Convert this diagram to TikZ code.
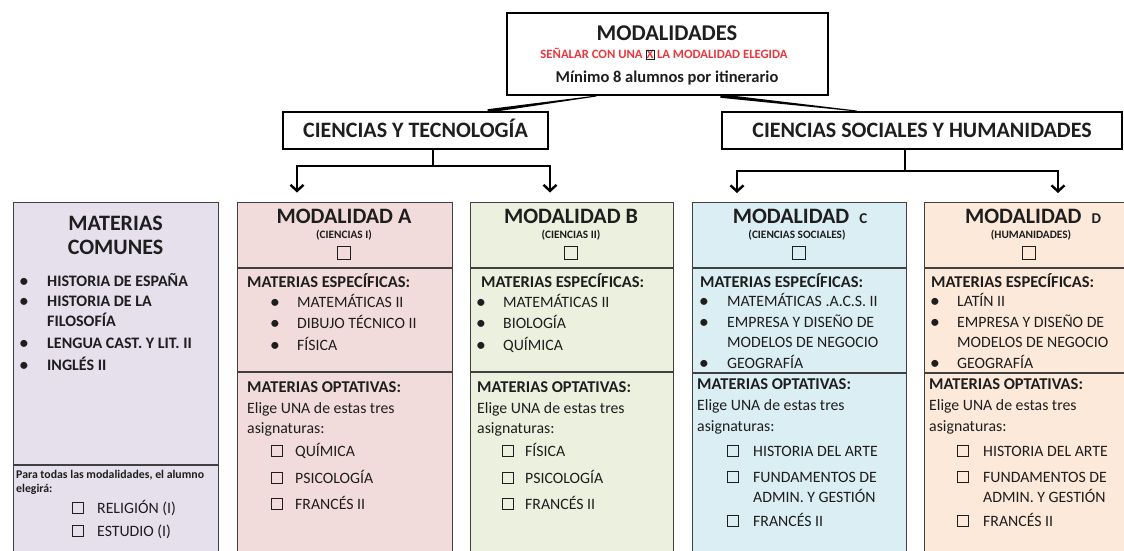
\documentclass[tikz,border=0pt]{standalone}
\usepackage{fontspec}
\setmainfont{Carlito}
\usetikzlibrary{arrows.meta,calc}
\definecolor{ink}{HTML}{1E1E1E}
\definecolor{redtxt}{HTML}{E8383D}
\definecolor{cCom}{HTML}{E5E0EC}
\definecolor{cA}{HTML}{F2DCDB}
\definecolor{cB}{HTML}{EBF1DE}
\definecolor{cC}{HTML}{DAEEF3}
\definecolor{cD}{HTML}{FDE9D9}
\newcommand{\fs}[1]{\fontsize{#1}{#1}\selectfont}
\newcommand{\xmark}{{\fboxsep=0.5pt\fboxrule=0.7pt\fcolorbox{ink}{white}{X}}}
\begin{document}
\begin{tikzpicture}[x=1pt,y=-1pt,
  txt/.style={inner sep=0pt, text=ink, text depth=0pt},
  ttl/.style={txt, font=\bfseries\fs{22}, text height=14.1pt},
  subt/.style={txt, font=\bfseries\fs{11.3}, text height=7.2pt},
  hd/.style={txt, anchor=west, font=\bfseries\fs{16.5}, text height=10.6pt},
  itm/.style={txt, anchor=west, font=\fs{15.8}, text height=10.1pt},
  bitm/.style={txt, anchor=west, font=\bfseries\fs{16}, text height=10.2pt},
  bul/.style={txt, font=\bfseries\fs{16.5}, text height=10.6pt},
  small/.style={txt, anchor=west, font=\bfseries\fs{11.8}, text height=7.5pt},
  cbox/.style={draw=ink, line width=1pt, minimum size=11pt, inner sep=0pt},
  bigcb/.style={draw=ink, line width=1.2pt, minimum size=12.5pt, inner sep=0pt},
  panel/.style={draw=black!75, line width=1.2pt, anchor=north west, minimum height=370pt, inner sep=0pt},
  divl/.style={draw=black!75, line width=1.2pt},
  topbox/.style={draw=black, line width=2pt, fill=white, inner sep=0pt},
  toptext/.style={text=ink, font=\bfseries\fs{22}, text height=14.1pt, text depth=0pt},
  conn/.style={draw=black, line width=2.4pt},
  arr/.style={-{Straight Barb[length=6pt,width=13pt]}},
]
\useasboundingbox (0,0) rectangle (1124,551);
\clip (0,0) rectangle (1124,551);
\fill[white] (0,0) rectangle (1124,551);

% ---------- panels ----------
\node[panel, fill=cCom, minimum width=205pt] (pCom) at (13,202) {};
\node[panel, fill=cA, minimum width=215pt] (pA) at (237,202) {};
\node[panel, fill=cB, minimum width=203pt] (pB) at (470,202) {};
\node[panel, fill=cC, minimum width=214pt] (pC) at (692,202) {};
\node[panel, fill=cD, minimum width=220pt] (pD) at (924,202) {};

\draw[divl] (13,465) -- (218,465);
\draw[divl] (237,268) -- (452,268);
\draw[divl] (237,372) -- (452,372);
\draw[divl] (470,268) -- (673,268);
\draw[divl] (470,372) -- (673,372);
\draw[divl] (692,268) -- (906,268);
\draw[divl] (692,373) -- (906,373);
\draw[divl] (924,268) -- (1144,268);
\draw[divl] (924,373) -- (1144,373);

% ---------- materias comunes ----------
\node[ttl] (comT1) at (115.5,223) {MATERIAS};
\node[ttl] (comT2) at (115.5,247) {COMUNES};
\node[bul] (cb1) at (24,281) {•}; \node[bitm] (ci1) at (47,281) {HISTORIA DE ESPAÑA};
\node[bul] (cb2) at (24,301) {•}; \node[bitm] (ci2) at (47,301) {HISTORIA DE LA};
\node[bitm] (ci2b) at (47,321) {FILOSOFÍA};
\node[bul] (cb3) at (24,343) {•}; \node[bitm] (ci3) at (47,343) {LENGUA CAST. Y LIT. II};
\node[bul] (cb4) at (24,365) {•}; \node[bitm] (ci4) at (47,365) {INGLÉS II};
\node[small] (cpara1) at (16,475) {Para todas las modalidades, el alumno};
\node[small] (cpara2) at (16,489) {elegirá:};
\node[cbox] (ccb1) at (78,508) {}; \node[itm] (cr1) at (97,508) {RELIGIÓN (I)};
\node[cbox] (ccb2) at (78,531) {}; \node[itm] (cr2) at (97,531) {ESTUDIO (I)};

% ---------- modalidad A ----------
\node[ttl] (aT) at (344,216) {MODALIDAD A};
\node[subt] (aS) at (344,235) {(CIENCIAS I)};
\node[bigcb] (aC) at (344,253) {};
\node[hd] (aE) at (247,282) {MATERIAS ESPECÍFICAS:};
\node[bul] (ab1) at (275,302) {•}; \node[itm] (ai1) at (297,302) {MATEMÁTICAS II};
\node[bul] (ab2) at (275,323) {•}; \node[itm] (ai2) at (297,323) {DIBUJO TÉCNICO II};
\node[bul] (ab3) at (275,345) {•}; \node[itm] (ai3) at (297,345) {FÍSICA};
\node[hd] (aO) at (247,387) {MATERIAS OPTATIVAS:};
\node[itm] (aL1) at (247,408) {Elige UNA de estas tres};
\node[itm] (aL2) at (247,428) {asignaturas:};
\node[cbox] (ac1) at (277,451) {}; \node[itm] (ao1) at (295,451) {QUÍMICA};
\node[cbox] (ac2) at (277,478) {}; \node[itm] (ao2) at (295,478) {PSICOLOGÍA};
\node[cbox] (ac3) at (277,504) {}; \node[itm] (ao3) at (295,504) {FRANCÉS II};

% ---------- modalidad B ----------
\node[ttl] (bT) at (571,216) {MODALIDAD B};
\node[subt] (bS) at (571,235) {(CIENCIAS II)};
\node[bigcb] (bC) at (571,253) {};
\node[hd] (bE) at (481,282) {MATERIAS ESPECÍFICAS:};
\node[bul] (bb1) at (481,302) {•}; \node[itm] (bi1) at (503,302) {MATEMÁTICAS II};
\node[bul] (bb2) at (481,323) {•}; \node[itm] (bi2) at (503,323) {BIOLOGÍA};
\node[bul] (bb3) at (481,345) {•}; \node[itm] (bi3) at (503,345) {QUÍMICA};
\node[hd] (bO) at (477,387) {MATERIAS OPTATIVAS:};
\node[itm] (bL1) at (477,408) {Elige UNA de estas tres};
\node[itm] (bL2) at (477,428) {asignaturas:};
\node[cbox] (bc1) at (508,451) {}; \node[itm] (bo1) at (525,451) {FÍSICA};
\node[cbox] (bc2) at (508,478) {}; \node[itm] (bo2) at (525,478) {PSICOLOGÍA};
\node[cbox] (bc3) at (508,504) {}; \node[itm] (bo3) at (525,504) {FRANCÉS II};

% ---------- modalidad C ----------
\node[ttl] (cT) at (800,216) {MODALIDAD\ \ {\fs{15}C}};
\node[subt] (cS) at (797,235) {(CIENCIAS SOCIALES)};
\node[bigcb] (cC) at (799,253) {};
\node[hd] (cE) at (700,282) {MATERIAS ESPECÍFICAS:};
\node[bul] (cbb1) at (704,301) {•}; \node[itm] (cci1) at (727,301) {MATEMÁTICAS .A.C.S. II};
\node[bul] (cbb2) at (704,322) {•}; \node[itm] (cci2) at (727,322) {EMPRESA Y DISEÑO DE};
\node[itm] (cci2b) at (727,342) {MODELOS DE NEGOCIO};
\node[bul] (cbb3) at (704,363) {•}; \node[itm] (cci3) at (727,363) {GEOGRAFÍA};
\node[hd] (cO) at (697,384) {MATERIAS OPTATIVAS:};
\node[itm] (cL1) at (697,405) {Elige UNA de estas tres};
\node[itm] (cL2) at (697,426) {asignaturas:};
\node[cbox] (cc1) at (733,451) {}; \node[itm] (co1) at (753,451) {HISTORIA DEL ARTE};
\node[cbox] (cc2) at (733,477) {}; \node[itm] (co2) at (753,477) {FUNDAMENTOS DE};
\node[itm] (co2b) at (753,497) {ADMIN. Y GESTIÓN};
\node[cbox] (cc3) at (733,521) {}; \node[itm] (co3) at (753,521) {FRANCÉS II};

% ---------- modalidad D ----------
\node[ttl] (dT) at (1033,216) {MODALIDAD\ \ {\fs{15}D}};
\node[subt] (dS) at (1031,235) {(HUMANIDADES)};
\node[bigcb] (dC) at (1029,253) {};
\node[hd] (dE) at (931,282) {MATERIAS ESPECÍFICAS:};
\node[bul] (db1) at (935,301) {•}; \node[itm] (di1) at (957,301) {LATÍN II};
\node[bul] (db2) at (935,322) {•}; \node[itm] (di2) at (957,322) {EMPRESA Y DISEÑO DE};
\node[itm] (di2b) at (957,342) {MODELOS DE NEGOCIO};
\node[bul] (db3) at (935,363) {•}; \node[itm] (di3) at (957,363) {GEOGRAFÍA};
\node[hd] (dO) at (929,384) {MATERIAS OPTATIVAS:};
\node[itm] (dL1) at (929,405) {Elige UNA de estas tres};
\node[itm] (dL2) at (929,426) {asignaturas:};
\node[cbox] (dc1) at (963,451) {}; \node[itm] (do1) at (983,451) {HISTORIA DEL ARTE};
\node[cbox] (dc2) at (963,477) {}; \node[itm] (do2) at (983,477) {FUNDAMENTOS DE};
\node[itm] (do2b) at (983,497) {ADMIN. Y GESTIÓN};
\node[cbox] (dc3) at (963,521) {}; \node[itm] (do3) at (983,521) {FRANCÉS II};

% ---------- top boxes ----------
\node[topbox, minimum width=321pt, minimum height=82pt] (mod) at (667.5,54) {};
\node[txt, font=\bfseries\fs{22.5}, text height=14.4pt] (modT) at (667,33) {MODALIDADES};
\node[txt, text=redtxt, font=\bfseries\fs{12.7}, text height=8pt] (modR) at (664,55) {SEÑALAR CON UNA \xmark\,LA MODALIDAD ELEGIDA};
\node[txt, font=\bfseries\fs{16.5}, text height=10.6pt] (modM) at (667,77) {Mínimo 8 alumnos por itinerario};

\node[topbox, toptext, minimum width=265pt, minimum height=37pt] (cyt) at (415.5,130.5) {CIENCIAS Y TECNOLOGÍA};
\node[topbox, toptext, minimum width=400pt, minimum height=37pt] (csh) at (922,130.5) {CIENCIAS SOCIALES Y HUMANIDADES};

% ---------- connectors ----------
\coordinate (m1) at ($(mod.south west)!0.28!(mod.south east)$);
\coordinate (m2) at ($(mod.south west)!0.664!(mod.south east)$);
\coordinate (c1) at ($(cyt.north west)!0.77!(cyt.north east)$);
\coordinate (c2) at ($(csh.north west)!0.3375!(csh.north east)$);
\fill[black] ([yshift=0.5pt]m1) -- ([yshift=-0.5pt]m1) -- ([yshift=-1.8pt]c1) -- ([yshift=1.8pt]c1) -- cycle;
\fill[black] ([yshift=1.8pt]m2) -- ([yshift=-1.8pt]m2) -- ([yshift=-0.5pt]c2) -- ([yshift=0.5pt]c2) -- cycle;

\coordinate (jl) at (433,166);
\coordinate (tA) at (297,192.5);
\coordinate (tB) at (550,192.5);
\draw[conn] (jl |- cyt.south) -- (jl);
\draw[conn, arr] (jl) -| (tA);
\draw[conn, arr] (jl) -| (tB);

\coordinate (jr) at (905,171);
\coordinate (tC) at (737,193);
\coordinate (tD) at (1058,193);
\draw[conn] (jr |- csh.south) -- (jr);
\draw[conn, arr] (jr) -| (tC);
\draw[conn, arr] (jr) -| (tD);
\end{tikzpicture}
\end{document}
